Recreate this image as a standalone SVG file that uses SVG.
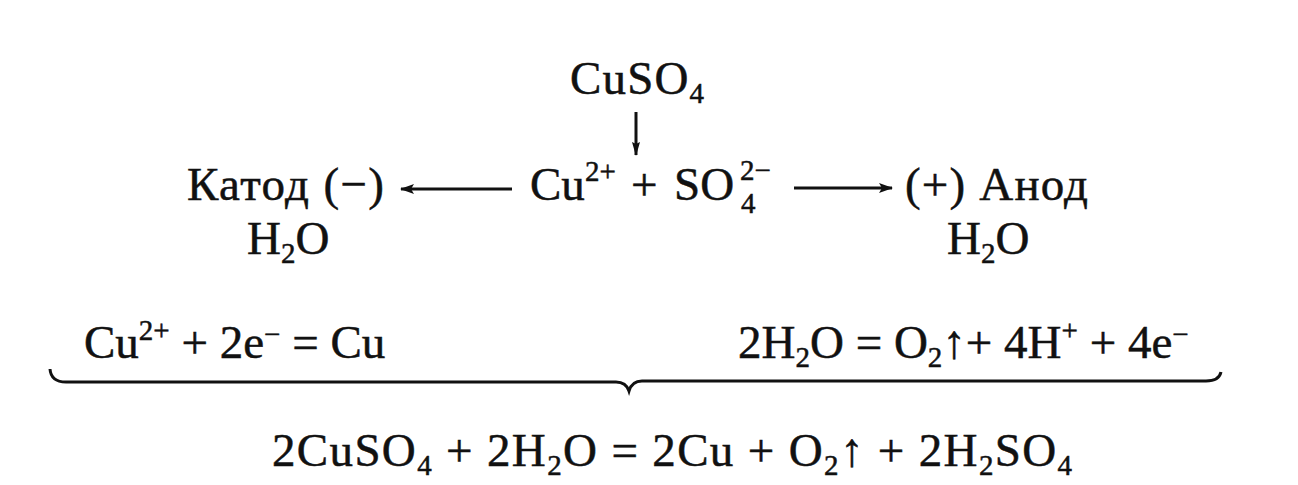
<svg xmlns="http://www.w3.org/2000/svg" width="1298" height="485" viewBox="0 0 1298 485">
<style>
text{font-family:"Liberation Serif","Times New Roman",serif;font-size:47px;fill:#111;stroke:#111;stroke-width:0.5}
.s{font-size:29px}
.ln{stroke:#111;stroke-width:3;fill:none}
</style>
<defs>
<marker id="ah" viewBox="0 0 14 10" refX="13" refY="5" markerWidth="14" markerHeight="10" markerUnits="userSpaceOnUse" orient="auto">
<path d="M0,0 L14,5 L0,10 L3,5 Z" fill="#111"/>
</marker>
<marker id="ad" viewBox="0 0 14 8" refX="13" refY="4" markerWidth="14" markerHeight="8" markerUnits="userSpaceOnUse" orient="auto">
<path d="M0,0 L14,4 L0,8 L2,4 Z" fill="#111"/>
</marker>
</defs>
<rect width="1298" height="485" fill="#fff"/>
<g id="cuso4"><text x="570" y="94" textLength="134" lengthAdjust="spacing">CuSO<tspan class="s" dy="9">4</tspan></text></g>
<g id="ions">
<text x="530" y="200">Cu</text>
<text class="s" x="585" y="181">2+</text>
<text x="631" y="200">+</text>
<text x="674" y="200">SO</text>
<text class="s" x="740" y="180">2−</text>
<text class="s" x="741" y="213">4</text>
</g>
<g id="cathode">
<text x="187" y="200" textLength="197" lengthAdjust="spacing">Катод (−)</text>
<text x="247" y="254">H<tspan class="s" dy="9">2</tspan><tspan dy="-9">O</tspan></text>
</g>
<g id="anode">
<text x="905" y="200" textLength="183" lengthAdjust="spacing">(+) Анод</text>
<text x="947" y="254">H<tspan class="s" dy="9">2</tspan><tspan dy="-9">O</tspan></text>
</g>
<g id="cathode-eq">
<text x="84" y="358">Cu<tspan class="s" dy="-18">2+</tspan><tspan dy="18"> + 2e</tspan><tspan class="s" dy="-14">−</tspan><tspan dy="14"> = Cu</tspan></text>
</g>
<g id="anode-eq">
<text x="738" y="358">2H<tspan class="s" dy="9">2</tspan><tspan dy="-9">O = O</tspan><tspan class="s" dy="9">2</tspan><tspan dy="-9">↑+ 4H</tspan><tspan class="s" dy="-18">+</tspan><tspan dy="18"> + 4e</tspan><tspan class="s" dy="-14">−</tspan></text>
</g>
<g id="overall">
<text x="272" y="466" textLength="800" lengthAdjust="spacing">2CuSO<tspan class="s" dy="9">4</tspan><tspan dy="-9"> + 2H</tspan><tspan class="s" dy="9">2</tspan><tspan dy="-9">O = 2Cu + O</tspan><tspan class="s" dy="9">2</tspan><tspan dy="-9">↑ + 2H</tspan><tspan class="s" dy="9">2</tspan><tspan dy="-9">SO</tspan><tspan class="s" dy="9">4</tspan></text>
</g>
<g id="connectors">
<line class="ln" x1="636" y1="112" x2="636" y2="155" marker-end="url(#ad)" stroke-width="2.5"/>
<line class="ln" x1="512" y1="189" x2="401" y2="189" marker-end="url(#ah)"/>
<line class="ln" x1="794" y1="188" x2="892" y2="188" marker-end="url(#ah)"/>
<path class="ln" d="M50,369 Q51,382 66,382 L616,382 Q626,382 629,391 Q632,381 642,381 L1206,381 Q1219,381 1221,372"/>
</g>
</svg>
